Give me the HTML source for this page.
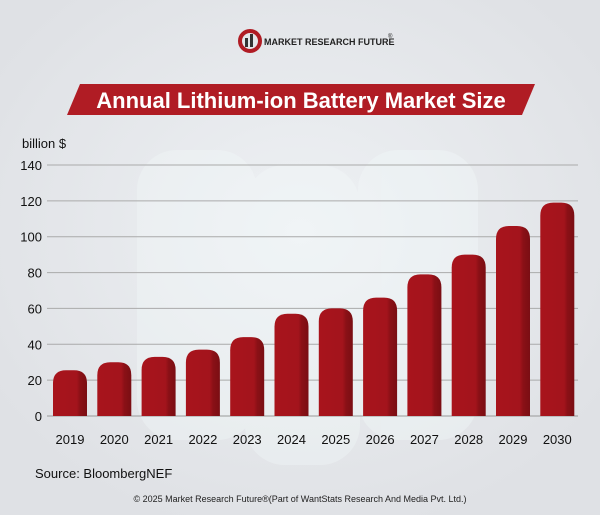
<!DOCTYPE html>
<html><head><meta charset="utf-8"><style>
body{margin:0;width:600px;height:515px;overflow:hidden;background:#e4e6e9;font-family:"Liberation Sans",sans-serif}
svg{display:block}
</style></head><body>
<svg width="600" height="515">
<defs>
<radialGradient id="bg" cx="50%" cy="45%" r="60%"><stop offset="0" stop-color="#eef1f4"/><stop offset="1" stop-color="#dfe1e5"/></radialGradient>
<linearGradient id="bar" x1="0" x2="1"><stop offset="0" stop-color="#a8141c"/><stop offset="0.7" stop-color="#a3141c"/><stop offset="0.8" stop-color="#8a1016"/><stop offset="1" stop-color="#7a0e13"/></linearGradient>
</defs>
<rect width="600" height="515" fill="url(#bg)"/>
<g opacity="0.35">
<rect x="137" y="150" width="120" height="290" rx="40" fill="#f4fbfb"/>
<rect x="245" y="165" width="115" height="300" rx="40" fill="#f4fbfb"/>
<rect x="358" y="150" width="120" height="290" rx="40" fill="#f4fbfb"/>
</g>
<g>
<circle cx="250" cy="41" r="10" fill="none" stroke="#b01c24" stroke-width="4"/>
<rect x="245" y="38" width="3" height="9" fill="#333"/><rect x="250" y="34" width="3" height="13" fill="#333"/>
<text x="264" y="45" font-size="9" font-weight="bold" fill="#222">MARKET RESEARCH FUTURE</text>
<text x="388" y="38" font-size="6" fill="#222">®</text>
</g>
<polygon points="80,84 535,84 522,115 67,115" fill="#b01c24"/>
<text x="301" y="108" text-anchor="middle" font-size="22" font-weight="bold" fill="#fff">Annual Lithium-ion Battery Market Size</text>
<text x="22" y="148" font-size="13" fill="#111">billion $</text>
<g id="grid"></g><g id="bars"></g>
<text x="35" y="478" font-size="13" fill="#111">Source: BloombergNEF</text>
<text x="300" y="502" text-anchor="middle" font-size="9" fill="#222">© 2025 Market Research Future®(Part of WantStats Research And Media Pvt. Ltd.)</text>
</svg>
<script>
const categories=["2019","2020","2021","2022","2023","2024","2025","2026","2027","2028","2029","2030"];
const values=[25.5,30,33,37,44,57,60,66,79,90,106,119];
const ticks=[0,20,40,60,80,100,120,140];
const NS="http://www.w3.org/2000/svg";
const y0=416,yTop=165,yMax=140;
const y=v=>y0-(v/yMax)*(y0-yTop);
const x=i=>53+i*44.3;
const bw=34;
function mk(t,a,p){const e=document.createElementNS(NS,t);for(const k in a)e.setAttribute(k,a[k]);p.appendChild(e);return e;}
const g=document.getElementById('grid'),b=document.getElementById('bars');
ticks.forEach(t=>{
 const l=mk('line',{x1:47,x2:578,y1:y(t),y2:y(t),stroke:t===0?'#999':'#aaa','stroke-width':1},g);
 
 
 const tx=mk('text',{x:42,y:y(t)+5,'text-anchor':'end','font-size':13,fill:'#111'},g);tx.textContent=t;
 
 
});
values.forEach((v,i)=>{
 const top=y(v),r=13;
 const p=mk('path',{d:`M${x(i)},${y0} V${top+r} Q${x(i)},${top} ${x(i)+r},${top} H${x(i)+bw-r} Q${x(i)+bw},${top} ${x(i)+bw},${top+r} V${y0} Z`,fill:'url(#bar)'},b);
 
 
 const t=mk('text',{x:x(i)+bw/2,y:444,'text-anchor':'middle','font-size':13,fill:'#111'},b);t.textContent=categories[i];
 
 
});
</script>
</body></html>
